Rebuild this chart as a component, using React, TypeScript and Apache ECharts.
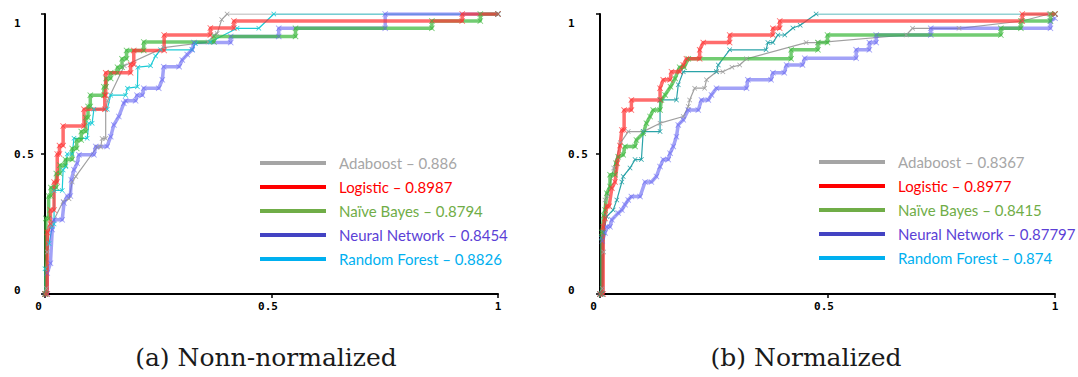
import React, { useEffect, useRef } from 'react';
import * as echarts from 'echarts';

// ---- Data ----
const modelNames = ['Adaboost', 'Logistic', 'Naïve Bayes', 'Neural Network', 'Random Forest'];
const aucNonNormalized = ['0.886', '0.8987', '0.8794', '0.8454', '0.8826'];
const aucNormalized = ['0.8367', '0.8977', '0.8415', '0.87797', '0.874'];
const axisTickValues = [0, 0.5, 1];
const captions = ['(a) Nonn-normalized', '(b) Normalized'];

// (a) Non-normalized ROC curves: [FPR, TPR]
const adaboostA = [[0,0],[0.003,0.02],[0.005,0.15],[0.01,0.24],[0.015,0.25],[0.04,0.33],[0.053,0.34],[0.06,0.40],[0.068,0.42],[0.115,0.525],[0.123,0.525],[0.126,0.555],[0.134,0.555],[0.134,0.66],[0.138,0.69],[0.175,0.815],[0.262,0.88],[0.36,0.90],[0.373,0.925],[0.38,0.93],[0.39,0.98],[0.402,1],[1,1]];
const logisticA = [[0,0],[0.005,0],[0.005,0.22],[0.012,0.25],[0.012,0.30],[0.02,0.30],[0.02,0.40],[0.027,0.40],[0.027,0.5],[0.032,0.5],[0.032,0.53],[0.04,0.53],[0.04,0.60],[0.086,0.60],[0.086,0.66],[0.132,0.66],[0.132,0.71],[0.134,0.71],[0.134,0.79],[0.189,0.79],[0.189,0.82],[0.196,0.82],[0.196,0.87],[0.263,0.87],[0.263,0.925],[0.365,0.925],[0.365,0.95],[0.417,0.95],[0.417,0.975],[0.921,0.975],[0.921,1],[1,1]];
const naiveBayesA = [[0,0],[0.002,0],[0.002,0.27],[0.008,0.27],[0.008,0.35],[0.013,0.35],[0.013,0.38],[0.025,0.38],[0.025,0.43],[0.033,0.43],[0.033,0.46],[0.045,0.46],[0.045,0.48],[0.06,0.48],[0.06,0.52],[0.07,0.52],[0.07,0.55],[0.08,0.55],[0.08,0.58],[0.09,0.58],[0.09,0.63],[0.095,0.63],[0.095,0.67],[0.1,0.67],[0.1,0.71],[0.13,0.71],[0.13,0.74],[0.135,0.74],[0.135,0.77],[0.145,0.77],[0.145,0.79],[0.16,0.79],[0.16,0.81],[0.17,0.81],[0.17,0.84],[0.18,0.84],[0.18,0.87],[0.218,0.87],[0.218,0.90],[0.373,0.90],[0.373,0.92],[0.553,0.92],[0.553,0.949],[0.854,0.949],[0.854,0.975],[0.961,0.975],[0.961,1],[1,1]];
const neuralNetA = [[0,0],[0.005,0],[0.005,0.075],[0.012,0.11],[0.016,0.23],[0.02,0.265],[0.038,0.265],[0.042,0.325],[0.049,0.35],[0.056,0.35],[0.058,0.408],[0.064,0.444],[0.071,0.467],[0.075,0.497],[0.108,0.497],[0.112,0.527],[0.137,0.527],[0.145,0.562],[0.152,0.604],[0.163,0.634],[0.174,0.681],[0.178,0.69],[0.2,0.69],[0.203,0.71],[0.215,0.71],[0.218,0.735],[0.251,0.735],[0.259,0.765],[0.262,0.812],[0.296,0.812],[0.303,0.836],[0.314,0.855],[0.325,0.872],[0.329,0.898],[0.41,0.898],[0.41,0.92],[0.516,0.92],[0.516,0.949],[0.751,0.949],[0.751,1],[1,1]];
const randomForestA = [[0,0],[0,0.09],[0.009,0.18],[0.016,0.24],[0.02,0.25],[0.02,0.37],[0.038,0.37],[0.04,0.443],[0.046,0.455],[0.049,0.50],[0.06,0.50],[0.064,0.556],[0.093,0.556],[0.097,0.61],[0.104,0.61],[0.108,0.66],[0.1375,0.66],[0.145,0.71],[0.178,0.71],[0.182,0.735],[0.204,0.74],[0.205,0.81],[0.233,0.815],[0.244,0.85],[0.255,0.872],[0.325,0.872],[0.332,0.895],[0.365,0.9],[0.424,0.949],[0.472,0.949],[0.505,1],[1,1]];

// (b) Normalized ROC curves: [FPR, TPR]
const adaboostB = [[0,0],[0.005,0.02],[0.008,0.15],[0.011,0.336],[0.016,0.35],[0.03,0.45],[0.045,0.54],[0.062,0.58],[0.095,0.58],[0.132,0.61],[0.183,0.634],[0.194,0.67],[0.197,0.693],[0.208,0.735],[0.23,0.735],[0.234,0.765],[0.256,0.794],[0.27,0.794],[0.29,0.81],[0.307,0.818],[0.322,0.84],[0.453,0.898],[0.479,0.898],[0.673,0.925],[0.687,0.949],[0.789,0.949],[0.928,0.975],[0.987,1],[1,1]];
const logisticB = [[0,0],[0.007,0],[0.007,0.24],[0.011,0.27],[0.015,0.313],[0.02,0.313],[0.026,0.378],[0.033,0.40],[0.038,0.467],[0.044,0.53],[0.048,0.586],[0.053,0.586],[0.053,0.657],[0.069,0.657],[0.069,0.693],[0.132,0.693],[0.132,0.735],[0.139,0.765],[0.154,0.765],[0.157,0.794],[0.175,0.794],[0.183,0.818],[0.19,0.84],[0.219,0.84],[0.219,0.872],[0.227,0.898],[0.285,0.898],[0.285,0.925],[0.38,0.925],[0.38,0.949],[0.395,0.949],[0.395,0.975],[0.928,0.975],[0.928,1],[1,1]];
const naiveBayesB = [[0,0],[0.004,0],[0.004,0.22],[0.008,0.28],[0.011,0.30],[0.015,0.36],[0.022,0.384],[0.022,0.426],[0.033,0.426],[0.035,0.467],[0.04,0.49],[0.051,0.497],[0.055,0.527],[0.077,0.527],[0.08,0.55],[0.095,0.574],[0.102,0.61],[0.11,0.634],[0.117,0.657],[0.132,0.657],[0.135,0.693],[0.143,0.711],[0.155,0.74],[0.165,0.77],[0.175,0.81],[0.185,0.81],[0.194,0.84],[0.42,0.84],[0.42,0.872],[0.479,0.872],[0.479,0.898],[0.5,0.898],[0.5,0.925],[0.881,0.925],[0.881,0.949],[0.925,0.949],[0.925,0.975],[0.99,0.975],[0.99,1],[1,1]];
const neuralNetB = [[0,0],[0.005,0],[0.005,0.19],[0.011,0.218],[0.015,0.24],[0.022,0.24],[0.026,0.265],[0.04,0.289],[0.048,0.30],[0.055,0.319],[0.062,0.336],[0.069,0.348],[0.088,0.348],[0.099,0.40],[0.113,0.40],[0.124,0.42],[0.132,0.455],[0.139,0.48],[0.15,0.48],[0.154,0.503],[0.161,0.527],[0.168,0.562],[0.172,0.604],[0.183,0.622],[0.194,0.657],[0.216,0.657],[0.223,0.693],[0.238,0.693],[0.245,0.711],[0.256,0.735],[0.322,0.735],[0.325,0.765],[0.376,0.765],[0.38,0.79],[0.405,0.79],[0.41,0.818],[0.445,0.818],[0.45,0.842],[0.563,0.842],[0.563,0.872],[0.592,0.872],[0.592,0.898],[0.607,0.898],[0.607,0.925],[0.727,0.925],[0.727,0.949],[0.99,0.949],[0.99,0.975],[1,0.985]];
const randomForestB = [[0,0],[0.003,0],[0.003,0.2],[0.008,0.22],[0.015,0.277],[0.029,0.30],[0.037,0.336],[0.048,0.40],[0.051,0.42],[0.066,0.45],[0.077,0.48],[0.091,0.48],[0.095,0.58],[0.132,0.58],[0.132,0.693],[0.168,0.693],[0.172,0.747],[0.183,0.794],[0.256,0.794],[0.26,0.818],[0.285,0.872],[0.365,0.872],[0.369,0.898],[0.38,0.898],[0.391,0.925],[0.406,0.925],[0.424,0.95],[0.44,0.96],[0.475,1],[1,1]];

const panelA = [adaboostA, logisticA, naiveBayesA, neuralNetA, randomForestA];
const panelB = [adaboostB, logisticB, naiveBayesB, neuralNetB, randomForestB];

// ---- Styles ----
const legendLineColors = ['#a5a5a5', '#ff0000', '#70ad47', '#4343c3', '#00b0f0'];
const legendTextColors = ['#a6a6a6', '#ff0000', '#70ad47', '#5b3fd6', '#00b0f0'];
const curveColorsA = ['#a0a0a0', '#ff3333', '#3cb83c', '#6464f2', '#1ccbd6'];
const curveColorsB = ['#a0a0a0', '#ff3333', '#3cb83c', '#6464f2', '#2aa3a8'];
const curveWidths = [1.2, 3.5, 3.5, 3.5, 1.2];
const curveOpacity = [1, 0.72, 0.72, 0.6, 1];
const drawOrder = [0, 4, 3, 2, 1];

const crossSymbol = 'path://M0,1L1,0L5,4L9,0L10,1L6,5L10,9L9,10L5,6L1,10L0,9L4,5Z';

const grids = [
  { left: 45, top: 14, width: 453, height: 280 },
  { left: 600, top: 14, width: 455, height: 280 },
];
const yLabelMargins = [31, 32];
const legendPos = [{ left: 260, top: 154 }, { left: 819, top: 153 }];
const captionCenters = [266, 806];

const tickFont = {
  fontFamily: 'DejaVu Sans Mono',
  fontWeight: 'bold' as const,
  fontSize: 11,
  color: '#000',
};

function makeAxes(gi: number) {
  const xAxis = {
    type: 'value',
    gridIndex: gi,
    min: axisTickValues[0],
    max: axisTickValues[axisTickValues.length - 1],
    interval: axisTickValues[1] - axisTickValues[0],
    axisLine: { show: true, lineStyle: { color: '#000', width: 2 } },
    axisTick: { show: true, length: 4, lineStyle: { color: '#000', width: 1.5 } },
    splitLine: { show: false },
    axisLabel: {
      ...tickFont,
      margin: 7,
      formatter: (v: number) => (v === 0 ? '{z|0}' : v === 0.5 ? '{h|0.5}' : '{o|1}'),
      rich: {
        z: { ...tickFont, padding: [0, 13, 0, 0] },
        h: { ...tickFont, padding: [0, 7, 0, 0] },
        o: { ...tickFont },
      },
    },
  };
  const yAxis = {
    type: 'value',
    gridIndex: gi,
    min: axisTickValues[0],
    max: axisTickValues[axisTickValues.length - 1],
    interval: axisTickValues[1] - axisTickValues[0],
    axisLine: { show: true, lineStyle: { color: '#000', width: 2 } },
    axisTick: { show: true, length: 4, lineStyle: { color: '#000', width: 1.5 } },
    splitLine: { show: false },
    axisLabel: {
      ...tickFont,
      align: 'left',
      margin: yLabelMargins[gi],
      formatter: (v: number) => (v === 0 ? '{z|0}' : v === 0.5 ? '{h|0.5}' : '{o|1}'),
      rich: {
        z: { ...tickFont, padding: [0, 0, 8, 0] },
        h: { ...tickFont },
        o: { ...tickFont, padding: [18, 0, 0, 0] },
      },
    },
  };
  return { xAxis, yAxis };
}

export default function App() {
  const ref = useRef<HTMLDivElement>(null);

  useEffect(() => {
    if (!ref.current) return;
    const chart = echarts.init(ref.current, undefined, { renderer: 'svg' });

    const panels = [
      { data: panelA, auc: aucNonNormalized, colors: curveColorsA },
      { data: panelB, auc: aucNormalized, colors: curveColorsB },
    ];

    const xAxes: any[] = [];
    const yAxes: any[] = [];
    const series: any[] = [];
    const legends: any[] = [];

    panels.forEach((p, gi) => {
      const { xAxis, yAxis } = makeAxes(gi);
      xAxes.push(xAxis);
      yAxes.push(yAxis);
      const names = modelNames.map((m, i) => `${m} – ${p.auc[i]}`);
      drawOrder.forEach((i) => {
        series.push({
          type: 'line',
          name: names[i],
          xAxisIndex: gi,
          yAxisIndex: gi,
          data: p.data[i],
          showSymbol: true,
          symbol: crossSymbol,
          symbolSize: curveWidths[i] > 2 ? 6 : 5,
          lineStyle: { color: p.colors[i], width: curveWidths[i], opacity: curveOpacity[i] },
          itemStyle: { color: p.colors[i], opacity: curveOpacity[i] },
          emphasis: { disabled: true },
          silent: true,
        });
      });
      legends.push({
        show: true,
        orient: 'vertical',
        left: legendPos[gi].left,
        top: legendPos[gi].top,
        padding: 0,
        itemWidth: 66,
        itemHeight: 4,
        itemGap: 6,
        selectedMode: false,
        icon: 'rect',
        textStyle: {
          fontFamily: 'Lato',
          fontSize: 15,
          lineHeight: 18,
          padding: [0, 0, 0, 8],
        },
        data: names.map((n, i) => ({
          name: n,
          icon: 'rect',
          itemStyle: { color: legendLineColors[i], opacity: 1, borderWidth: 0 },
          textStyle: {
            color: legendTextColors[i],
            fontFamily: 'Lato',
            fontSize: 15,
            lineHeight: 18,
            padding: [0, 0, 0, 8],
          },
        })),
      });
    });

    chart.setOption({
      animation: false,
      backgroundColor: '#ffffff',
      title: captions.map((c, i) => ({
        text: c,
        left: captionCenters[i],
        top: 345,
        textAlign: 'center',
        padding: 0,
        textStyle: {
          fontFamily: 'DejaVu Serif',
          fontWeight: 'normal',
          fontSize: 25,
          color: '#1a1a1a',
        },
      })),
      grid: grids,
      xAxis: xAxes,
      yAxis: yAxes,
      legend: legends,
      series,
    });

    return () => chart.dispose();
  }, []);

  return (
    <div
      ref={ref}
      style={{ position: 'fixed', left: 0, top: 0, width: 1078, height: 377, background: '#fff' }}
    />
  );
}
